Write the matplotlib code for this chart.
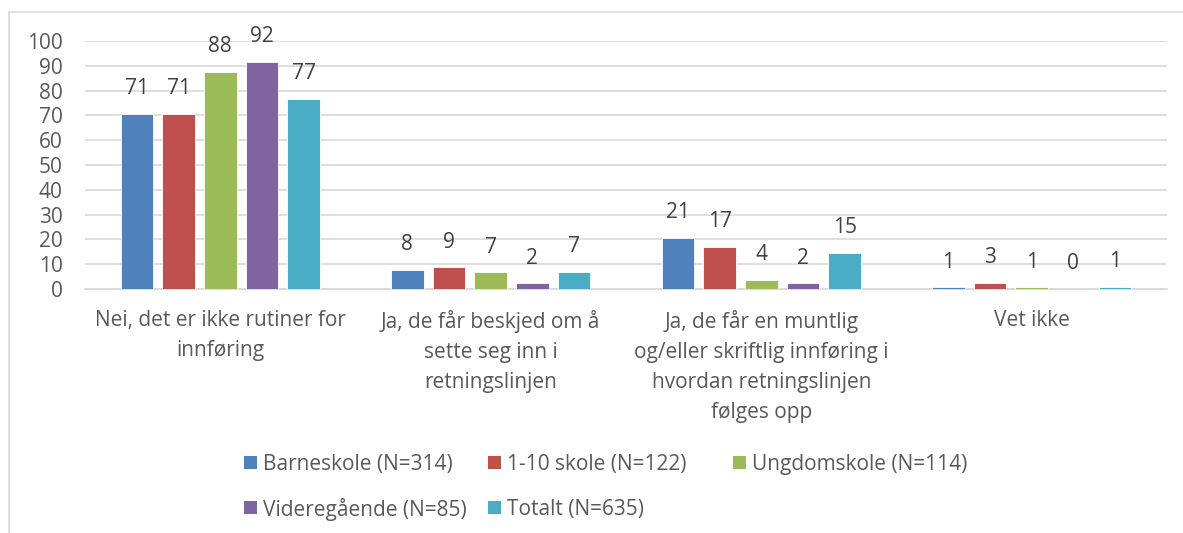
import numpy as np
import matplotlib.pyplot as plt
from matplotlib.patches import Rectangle
from matplotlib.lines import Line2D

plt.rcParams['font.family'] = ['Open Sans', 'DejaVu Sans']

categories = [
    "Nei, det er ikke rutiner for\ninnføring",
    "Ja, de får beskjed om å\nsette seg inn i\nretningslinjen",
    "Ja, de får en muntlig\nog/eller skriftlig innføring i\nhvordan retningslinjen\nfølges opp",
    "Vet ikke",
]
series_names = [
    "Barneskole (N=314)",
    "1-10 skole (N=122)",
    "Ungdomskole (N=114)",
    "Videregående (N=85)",
    "Totalt (N=635)",
]
barneskole = [70.7, 7.8, 20.7, 0.7]
en_ti_skole = [70.6, 8.8, 17.0, 2.6]
ungdomskole = [87.6, 6.7, 3.6, 0.7]
videregaende = [91.7, 2.3, 2.3, 0.0]
totalt = [76.6, 7.0, 14.6, 1.0]
series_values = [barneskole, en_ti_skole, ungdomskole, videregaende, totalt]
colors = ['#4f81bd', '#c0504d', '#9bbb59', '#8064a2', '#4bacc6']

text_col = '#595959'
grid_col = '#d9d9d9'
fs = 15
W, H = 1183, 533

fig = plt.figure(figsize=(W / 100, H / 100), dpi=100)
ax = fig.add_axes([85/W, 1 - 289/H, (1167-85)/W, (289-41)/H])

x = np.arange(len(categories))
pitch = 0.154
width = 0.121
for i, (vals, col) in enumerate(zip(series_values, colors)):
    pos = x + (i - 2) * pitch
    bars = ax.bar(pos, vals, width=width, color=col, edgecolor='white', linewidth=0.6, zorder=3)
    for b, v in zip(bars, vals):
        ax.annotate(f"{v:.0f}", (b.get_x() + b.get_width()/2, v), xytext=(0, 10.5),
                    textcoords='offset points', ha='center', va='bottom',
                    fontsize=fs, color='#404040')

ax.set_xlim(-0.5, len(categories) - 0.5)
ax.set_ylim(0, 100)
ax.set_yticks(np.arange(0, 101, 10))
ax.yaxis.grid(True, color=grid_col, linewidth=1.2, zorder=0)
ax.set_axisbelow(True)
for s in ['top', 'right', 'left']:
    ax.spines[s].set_visible(False)
ax.spines['bottom'].set_color(grid_col)
ax.spines['bottom'].set_linewidth(1.2)
ax.tick_params(axis='both', length=0, labelsize=fs, colors=text_col)
ax.tick_params(axis='y', pad=16)
ax.set_xticks(x)
ax.set_xticklabels(categories, fontsize=fs, color=text_col, linespacing=1.57)
ax.tick_params(axis='x', pad=15)

# legend laid out in an Excel-like grid (3 columns, 2 rows)
col_x = [244, 488, 733]
row_y = [462, 507]
sq = 13
for k, (name, col) in enumerate(zip(series_names, colors)):
    r, c = divmod(k, 3)
    x0, y0 = col_x[c], row_y[r]
    fig.add_artist(Rectangle((x0/W, 1 - (y0 + sq/2)/H), sq/W, sq/H,
                             transform=fig.transFigure, facecolor=col, edgecolor='none'))
    fig.text((x0 + sq + 6)/W, 1 - y0/H, name, fontsize=fs, color=text_col,
             ha='left', va='center_baseline')

# chart border
fig.add_artist(Line2D([8.5/W, 8.5/W], [0, 1 - 12/H], transform=fig.transFigure,
                      color='#d9d9d9', linewidth=1.2))
fig.add_artist(Line2D([8.5/W, 1], [1 - 12/H, 1 - 12/H], transform=fig.transFigure,
                      color='#d9d9d9', linewidth=1.2))

fig.savefig('out.png', dpi=100)
